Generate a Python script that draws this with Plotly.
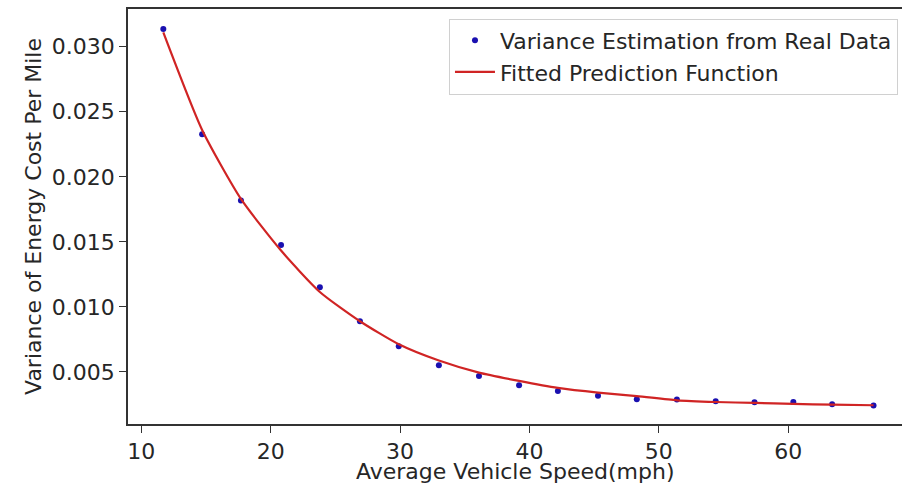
import plotly.graph_objects as go

# Data
speed = [11.7, 14.7, 17.7, 20.8, 23.8, 26.9, 29.9, 33.0, 36.1, 39.2,
         42.2, 45.3, 48.3, 51.4, 54.4, 57.4, 60.4, 63.4, 66.6]
variance = [0.03136, 0.02328, 0.01818, 0.01475, 0.01152, 0.00890, 0.00698,
            0.00552, 0.00469, 0.00398, 0.00354, 0.00318, 0.00290, 0.00288,
            0.00275, 0.00267, 0.00269, 0.00252, 0.00242]
fitted = [0.03110, 0.02360, 0.01830, 0.01433, 0.01115, 0.00890, 0.00713,
          0.00588, 0.00495, 0.00431, 0.00377, 0.00341, 0.00315, 0.00282,
          0.00269, 0.00262, 0.00254, 0.00249, 0.00244]

y_ticks = [0.005, 0.010, 0.015, 0.020, 0.025, 0.030]
x_ticks = [10, 20, 30, 40, 50, 60]
x_title = "Average Vehicle Speed(mph)"
y_title = "Variance of Energy Cost Per Mile"

FONT = "DejaVu Sans"
TXT = "#262626"
FS = 22

fig = go.Figure()
fig.add_trace(go.Scatter(
    x=speed, y=variance, mode="markers",
    name="Variance Estimation from Real Data",
    marker=dict(color="#1a10b0", size=6),
))
fig.add_trace(go.Scatter(
    x=speed, y=fitted, mode="lines",
    name="Fitted Prediction Function",
    line=dict(color="#d02424", width=2.2, shape="spline", smoothing=0.6),
))

fig.update_layout(
    width=902, height=484,
    margin=dict(l=128, r=0, t=9, b=60),
    paper_bgcolor="white", plot_bgcolor="white",
    font=dict(family=FONT, size=FS, color=TXT),
    showlegend=True,
    legend=dict(
        x=0.9948, y=0.977, xanchor="right", yanchor="top",
        bgcolor="rgba(255,255,255,0.9)", bordercolor="#d0d0d0", borderwidth=1,
        font=dict(family=FONT, size=FS, color=TXT),
        tracegroupgap=0, itemwidth=40,
    ),
    annotations=[dict(
        text=x_title, xref="paper", yref="paper", x=0.5, y=-0.080,
        xanchor="center", yanchor="top", showarrow=False,
        font=dict(family=FONT, size=FS, color=TXT),
    )],
)
fig.update_xaxes(
    range=[8.97, 68.8], tickvals=x_ticks, ticktext=[str(v) for v in x_ticks],
    automargin=False,
    showgrid=False, zeroline=False,
    showline=True, linecolor="#333333", linewidth=1.5, mirror=True,
    ticks="outside", ticklen=7, tickwidth=1.2, tickcolor="#333333",
    tickfont=dict(family=FONT, size=FS, color=TXT),
)
fig.update_yaxes(
    range=[0.0010, 0.0329], tickvals=y_ticks,
    ticktext=[f"{v:.3f}" for v in y_ticks],
    automargin=False,
    showgrid=False, zeroline=False,
    showline=True, linecolor="#333333", linewidth=1.5, mirror=False,
    ticks="outside", ticklen=7, tickwidth=1.2, tickcolor="#333333",
    tickfont=dict(family=FONT, size=FS, color=TXT),
    title=dict(text=y_title, standoff=4,
               font=dict(family=FONT, size=FS, color=TXT)),
)

fig.write_html("out.html")
